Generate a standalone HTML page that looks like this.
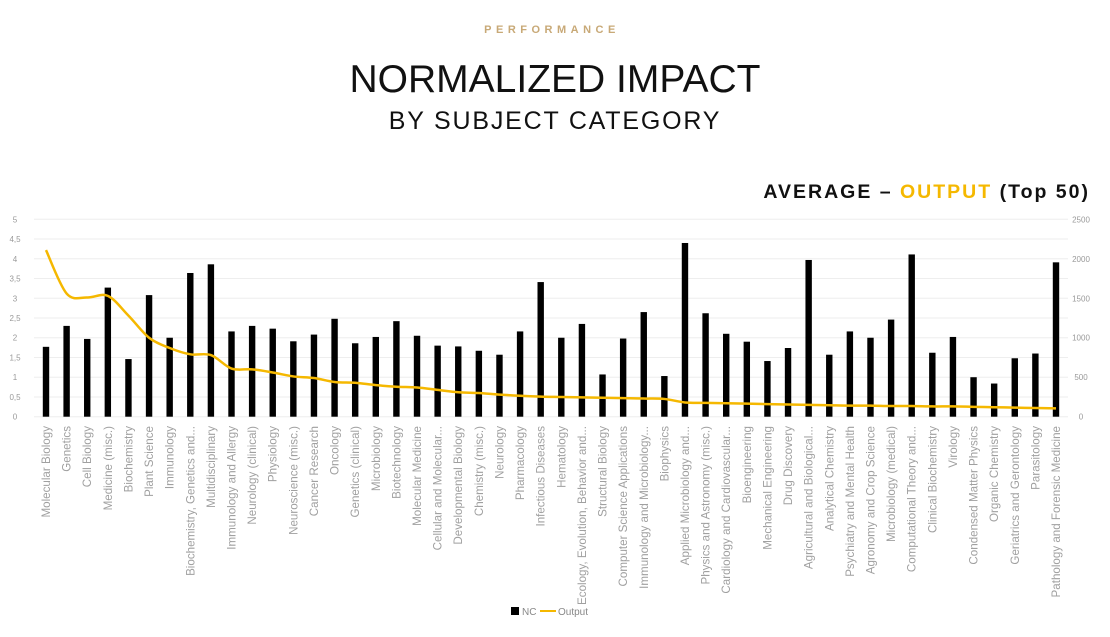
<!DOCTYPE html>
<html><head><meta charset="utf-8"><style>
html,body{margin:0;padding:0;background:#fff;width:1110px;height:637px;overflow:hidden;font-family:"Liberation Sans",sans-serif}
</style></head><body>
<svg id="s" width="1110" height="637" xmlns="http://www.w3.org/2000/svg" font-family="Liberation Sans, sans-serif">
<text x="552" y="33" text-anchor="middle" font-size="11" letter-spacing="4.5" fill="#c8a977" font-weight="bold">PERFORMANCE</text>
<text x="555" y="92" text-anchor="middle" font-size="39" fill="#111">NORMALIZED IMPACT</text>
<text x="555" y="129" text-anchor="middle" font-size="25" letter-spacing="1.8" fill="#111">BY SUBJECT CATEGORY</text>
<text x="1090" y="198" text-anchor="end" font-size="19.5" font-weight="bold" letter-spacing="2" fill="#111">AVERAGE – <tspan fill="#f5b800">OUTPUT</tspan> (Top 50)</text>
<g id="g"></g>
<rect x="511" y="607" width="8" height="8" fill="#000"/>
<text x="522" y="615" font-size="10" fill="#888">NC</text>
<line x1="540" y1="611" x2="556" y2="611" stroke="#f5b800" stroke-width="2"/>
<text x="558" y="615" font-size="10" fill="#888">Output</text>
</svg>
<script>
var names=["Molecular Biology","Genetics","Cell Biology","Medicine (misc.)","Biochemistry","Plant Science","Immunology","Biochemistry, Genetics and...","Multidisciplinary","Immunology and Allergy","Neurology (clinical)","Physiology","Neuroscience (misc.)","Cancer Research","Oncology","Genetics (clinical)","Microbiology","Biotechnology","Molecular Medicine","Cellular and Molecular...","Developmental Biology","Chemistry (misc.)","Neurology","Pharmacology","Infectious Diseases","Hematology","Ecology, Evolution, Behavior and...","Structural Biology","Computer Science Applications","Immunology and Microbiology...","Biophysics","Applied Microbiology and...","Physics and Astronomy (misc.)","Cardiology and Cardiovascular...","Bioengineering","Mechanical Engineering","Drug Discovery","Agricultural and Biological...","Analytical Chemistry","Psychiatry and Mental Health","Agronomy and Crop Science","Microbiology (medical)","Computational Theory and...","Clinical Biochemistry","Virology","Condensed Matter Physics","Organic Chemistry","Geriatrics and Gerontology","Parasitology","Pathology and Forensic Medicine"];
var nc=[1.77,2.3,1.97,3.27,1.46,3.08,2.0,3.64,3.86,2.16,2.3,2.23,1.91,2.08,2.48,1.86,2.02,2.42,2.05,1.8,1.78,1.67,1.57,2.16,3.41,2.0,2.35,1.07,1.98,2.65,1.03,4.4,2.62,2.1,1.9,1.41,1.74,3.97,1.57,2.16,2.0,2.46,4.11,1.62,2.02,1.0,0.84,1.48,1.6,3.91];
var out=[2110,1560,1510,1530,1280,1000,870,790,780,610,600,560,510,490,440,430,400,380,370,340,310,300,280,265,255,250,245,240,235,230,225,180,175,170,165,160,155,150,145,140,140,135,135,130,130,125,120,115,110,105];
var y0=416.7,y5=219.3,pu=(y0-y5)/5,h='';
for(var i=0;i<=10;i++){var y=y0-i*pu/2;h+='<line x1="34" x2="1068" y1="'+y+'" y2="'+y+'" stroke="#eee" stroke-width="1"/>';
h+='<text x="15" y="'+(y+3)+'" font-size="8" fill="#999" text-anchor="middle">'+String(i/2).replace('.',',')+'</text>';
if(i%2==0)h+='<text x="1081" y="'+(y+3)+'" font-size="8" fill="#999" text-anchor="middle">'+(i*250)+'</text>';}
var dx=(1056-46)/49,pts=[];
for(var i=0;i<50;i++){var x=46+i*dx,t=y0-nc[i]*pu;
h+='<rect x="'+(x-3.2)+'" y="'+t+'" width="6.4" height="'+(y0-t)+'" fill="#000"/>';
h+='<text transform="translate('+(x+4)+',426) rotate(-90)" text-anchor="end" font-size="11.6" fill="#a0a0a0">'+names[i]+'</text>';
pts.push([x,y0-out[i]*(y0-y5)/2500]);}
var d='M'+pts[0][0]+','+pts[0][1];
for(var i=0;i<49;i++){var p0=pts[Math.max(i-1,0)],p1=pts[i],p2=pts[i+1],p3=pts[Math.min(i+2,49)];
d+=' C'+(p1[0]+(p2[0]-p0[0])/6)+','+(p1[1]+(p2[1]-p0[1])/6)+' '+(p2[0]-(p3[0]-p1[0])/6)+','+(p2[1]-(p3[1]-p1[1])/6)+' '+p2[0]+','+p2[1];}
h+='<path d="'+d+'" fill="none" stroke="#f5b800" stroke-width="2.5"/>';
document.getElementById('g').innerHTML=h;
</script>
</body></html>
